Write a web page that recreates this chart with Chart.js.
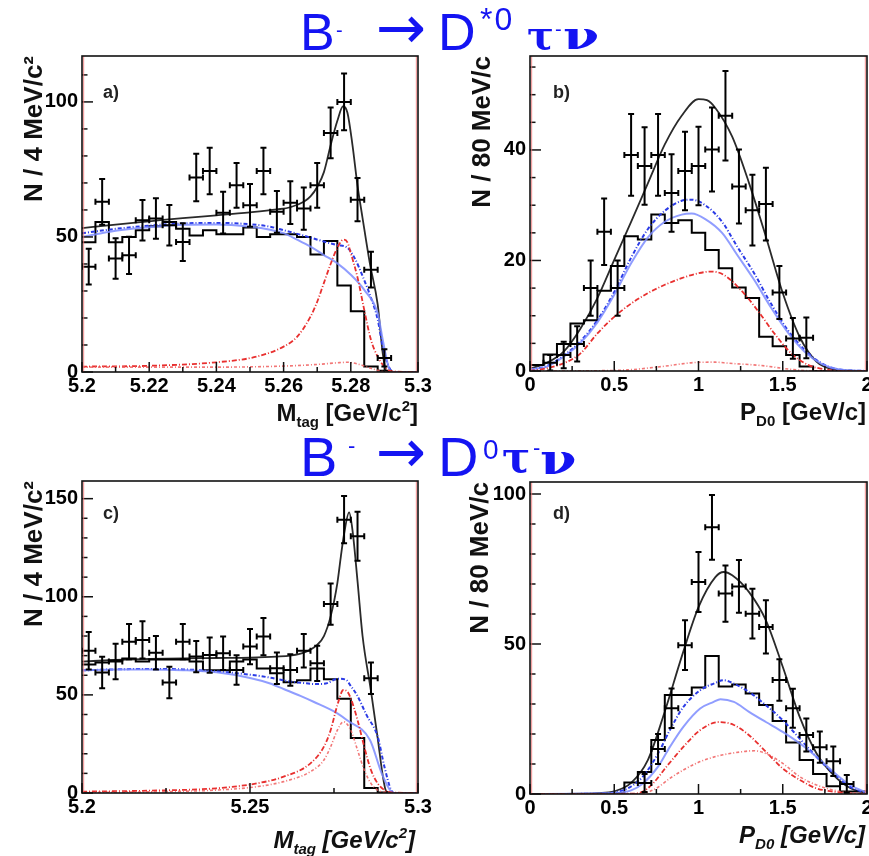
<!DOCTYPE html>
<html><head><meta charset="utf-8">
<script src="https://cdn.jsdelivr.net/npm/chart.js@4.4.1/dist/chart.umd.min.js"></script>
<style>
body{margin:0;background:#fff;width:869px;height:856px;overflow:hidden;position:relative;font-family:'Liberation Sans',Arial,sans-serif}
canvas{position:absolute}
.t{position:absolute;white-space:nowrap;color:#1414f2;line-height:1;font-family:'Liberation Sans','DejaVu Sans',sans-serif;z-index:5}
.g{font-family:'DejaVu Serif',serif;font-weight:bold;transform-origin:left bottom}
.ar{font-family:'DejaVu Sans',sans-serif}
.xl{position:absolute;white-space:nowrap;font-weight:bold;color:#111;font-size:24px;line-height:24px;z-index:4;text-align:right}
.xl sub,.xl sup{font-size:15px;line-height:0}
.xl sub{vertical-align:-6px}
.xl sup{vertical-align:10px}
.pl{position:absolute;font-weight:bold;color:#222;font-size:18px;line-height:18px;z-index:4}
</style></head><body>
<canvas id="pa" width="434" height="430" style="left:0;top:0"></canvas>
<canvas id="pb" width="435" height="430" style="left:434px;top:0"></canvas>
<canvas id="pc" width="434" height="426" style="left:0;top:430px"></canvas>
<canvas id="pd" width="435" height="426" style="left:434px;top:430px"></canvas>

<span class="t" style="left:300px;top:6px;font-size:52px">B</span>
<span class="t" style="left:336px;top:20px;font-size:20px">-</span>
<span class="t ar" style="left:376px;top:-3px;font-size:60px">→</span>
<span class="t" style="left:438px;top:6px;font-size:52px">D</span>
<span class="t" style="left:480px;top:3px;font-size:32px;letter-spacing:2px">*0</span>
<span class="t g" style="left:527px;top:15px;font-size:40px">τ</span>
<span class="t" style="left:555px;top:19px;font-size:20px">-</span>
<span class="t g" style="left:563px;top:15px;font-size:40px;transform:scaleX(1.3)">ν</span>

<span class="t" style="left:300px;top:429px;font-size:56px">B</span>
<span class="t" style="left:348px;top:435px;font-size:22px">-</span>
<span class="t ar" style="left:376px;top:421px;font-size:60px">→</span>
<span class="t" style="left:438px;top:429px;font-size:56px">D</span>
<span class="t" style="left:483px;top:436px;font-size:28px">0</span>
<span class="t g" style="left:502px;top:437px;font-size:42px">τ</span>
<span class="t" style="left:533px;top:437px;font-size:22px">-</span>
<span class="t g" style="left:540px;top:439px;font-size:42px;transform:scaleX(1.25)">ν</span>

<div class="xl" style="right:451px;top:401px">M<sub>tag</sub> [GeV/c<sup>2</sup>]</div>
<div class="xl" style="right:3px;top:400px">P<sub>D0</sub> [GeV/c]</div>
<div class="xl" style="right:454px;top:828px;font-style:italic">M<sub>tag</sub> [GeV/c<sup>2</sup>]</div>
<div class="xl" style="right:4px;top:823px;font-style:italic">P<sub>D0</sub> [GeV/c]</div>

<div class="pl" style="left:103px;top:83px">a)</div>
<div class="pl" style="left:553px;top:83px">b)</div>
<div class="pl" style="left:103px;top:504px">c)</div>
<div class="pl" style="left:553px;top:504px">d)</div>

<script>
// ---------- bin edges ----------
const massEdges = [5.200,5.204,5.208,5.212,5.216,5.220,5.224,5.228,5.232,5.236,5.240,5.244,5.248,5.252,5.256,5.260,5.264,5.268,5.272,5.276,5.280,5.284,5.288,5.292,5.296,5.300];
const momEdges = [0.00,0.08,0.16,0.24,0.32,0.40,0.48,0.56,0.64,0.72,0.80,0.88,0.96,1.04,1.12,1.20,1.28,1.36,1.44,1.52,1.60,1.68,1.76,1.84,1.92,2.00];

// ---------- panel a : Mtag, D*0 tau nu ----------
const aPtX = [5.202,5.206,5.210,5.214,5.218,5.222,5.226,5.230,5.234,5.238,5.242,5.246,5.250,5.254,5.258,5.262,5.266,5.270,5.274,5.278,5.282,5.286,5.290];
const aPtY = [39,63,42,43.2,56.2,56.8,54.3,48.1,72,74.4,59,69.1,61.7,74.4,59.3,62.7,60.5,69.1,88.5,100,63.8,37.9,5.2];
const aPtErr = [6.6,8.5,7.5,6.9,7.5,7.5,7.5,7,8.8,8.6,7.7,8.3,7.9,8.6,7.7,7.9,7.8,8.3,9.4,10.5,8,6.6,3.2];
const aHist = [48,48,55.5,48,50,52.5,54,55.5,53,50.5,52.5,51,51,53.5,50,51,51,50,43.5,48.5,32,22.5,2,0.5,0];
const aTotX = [5.200,5.210,5.220,5.230,5.240,5.250,5.258,5.262,5.266,5.268,5.270,5.272,5.274,5.276,5.2777,5.279,5.2805,5.282,5.2835,5.2857,5.288,5.2895,5.2905,5.292,5.300];
const aTotY = [53.3,54.6,55.8,57.0,58.0,59.1,60.2,61.0,63.0,65.0,68.5,74.0,84.0,93.0,98.4,96.0,84.0,69.0,57.0,40.0,25.0,7.0,0.5,0,0];
const aDashX = [5.200,5.210,5.220,5.230,5.240,5.250,5.256,5.260,5.266,5.272,5.276,5.279,5.281,5.284,5.286,5.288,5.2895,5.2915,5.293,5.300];
const aDashY = [51.4,53.0,54.2,55.0,55.2,54.7,53.8,52.5,50.5,48.3,47.0,46.0,42.5,34.0,27.5,19.5,9.5,1.5,0,0];
const aSolX = [5.200,5.210,5.220,5.230,5.240,5.250,5.256,5.260,5.264,5.268,5.272,5.276,5.280,5.284,5.288,5.2895,5.291,5.292,5.300];
const aSolY = [50.0,52.3,53.6,54.5,54.6,53.8,52.7,51.4,49.0,46.4,43.3,40.2,36.0,30.4,21.7,12.0,3,0,0];
const aSigX = [5.200,5.220,5.240,5.252,5.260,5.264,5.268,5.270,5.272,5.274,5.276,5.2778,5.279,5.280,5.282,5.284,5.286,5.288,5.290,5.292,5.300];
const aSigY = [2.0,2.3,3.6,5.7,9.4,13.0,20.5,26,33,40,46,49,48,44,35,23,11.9,5.7,2.0,0.3,0];
const aSig2X = [5.200,5.240,5.260,5.270,5.276,5.279,5.282,5.285,5.288,5.291,5.300];
const aSig2Y = [1.8,1.8,2.2,2.8,3.4,3.6,3.0,1.8,0.6,0,0];

// ---------- panel b : pD0, D*0 tau nu ----------
const bPtX = [0.12,0.20,0.28,0.36,0.44,0.52,0.60,0.68,0.76,0.84,0.92,1.00,1.08,1.16,1.24,1.32,1.40,1.48,1.56,1.64];
const bPtY = [1.5,2.9,4.9,15,25.2,15,39.1,37.1,39.1,32.2,36.2,37.1,40.1,46.2,33.4,29.1,30.2,14.2,5.9,6];
const bPtErr = [1.4,2.4,3.2,5,6,5,7.4,7,7.4,7,7.1,7.1,7.6,8.1,6.7,6.4,6.6,4.8,3.7,3.7];
const bHist = [0.3,1.1,3.0,4.9,8.6,9.2,14.5,19.0,24.4,23.8,28.3,26.8,27.3,25.0,21.9,18.6,15.1,13.2,6.2,4.5,2.9,0.8,0,0,0];
const bTotX = [0,0.1,0.2,0.3,0.4,0.5,0.6,0.7,0.8,0.9,1.0,1.05,1.1,1.2,1.3,1.4,1.5,1.6,1.7,1.8,1.9,2.0];
const bTotY = [0.4,1.5,3.5,7.7,13.2,20.1,27,34,41,46.2,49.2,49,47.6,42.4,34,24.3,14.1,6.2,1.7,0.3,0.05,0];
const bDashX = [0,0.1,0.2,0.3,0.4,0.5,0.6,0.7,0.8,0.9,0.96,1.04,1.14,1.23,1.33,1.43,1.53,1.63,1.73,1.83,2.0];
const bDashY = [0.3,0.9,2.8,5.4,9.2,14.3,20.5,25.7,29.0,30.8,31.0,30.0,27.0,22.5,17.7,12.2,7.4,3.8,1.4,0.3,0];
const bSolX = [0,0.1,0.2,0.3,0.4,0.5,0.6,0.7,0.8,0.9,0.96,1.04,1.14,1.23,1.33,1.43,1.53,1.63,1.73,1.83,2.0];
const bSolY = [0.3,0.8,2.6,5.1,8.8,13.8,19.5,24.2,27.0,28.3,28.5,27.5,25.0,21.0,16.5,11.5,7.0,3.5,1.3,0.3,0];
const bSigX = [0,0.1,0.2,0.3,0.4,0.5,0.6,0.7,0.8,0.9,1.0,1.08,1.15,1.25,1.35,1.45,1.55,1.65,1.75,1.85,2.0];
const bSigY = [0,0.5,1.4,3.2,6.8,9.8,12.2,14.1,15.6,16.8,17.7,18.0,17.4,14.7,11.0,6.8,3.2,1.1,0.3,0,0];
const bSig2X = [0,0.4,0.58,0.78,1.0,1.1,1.18,1.37,1.55,1.7,2.0];
const bSig2Y = [0,0.05,0.2,0.8,1.57,1.6,1.4,1.0,0.3,0,0];

// ---------- panel c : Mtag, D0 tau nu ----------
const cPtX = [5.202,5.206,5.210,5.214,5.218,5.222,5.226,5.230,5.234,5.238,5.242,5.246,5.250,5.254,5.258,5.262,5.266,5.270,5.274,5.278,5.282,5.286];
const cPtY = [72.5,61.4,67,77.1,78,71.5,56.3,77.1,69.5,70.3,71.2,62.7,74.6,79.7,63.6,62.7,72.5,66.1,96.3,139.3,130.8,58.5];
const cPtErr = [9.5,8,9,9,9.5,8.5,8,9,8,9,8.5,7.5,9,9.5,8,8,8.5,9,10.5,12,12.5,8];
const cHist = [66,65.5,66.5,67.5,68.5,67,68,68,68,67,62.5,62.5,67,68,63.5,61,56.5,57.5,63.5,58,48,28,2.5,0.3,0];
const cTotX = [5.200,5.210,5.220,5.230,5.240,5.250,5.258,5.262,5.266,5.270,5.272,5.274,5.276,5.277,5.278,5.2795,5.2805,5.282,5.2835,5.286,5.288,5.2895,5.2905,5.292,5.300];
const cTotY = [67,67.8,68.3,68.6,68.8,69.0,69.5,70,71.5,75.5,80,90,107,120,132,143,134,108,80,52,28,9,1,0,0];
const cDashX = [5.200,5.210,5.220,5.230,5.240,5.250,5.256,5.262,5.266,5.270,5.273,5.276,5.2785,5.280,5.2818,5.2847,5.288,5.290,5.292,5.293,5.300];
const cDashY = [62.5,63.0,63.2,63.0,62.0,60.3,58.8,56.8,56.0,55.5,56.0,58.2,57.8,54.5,50.0,39.7,28.7,13.4,1.5,0,0];
const cSolX = [5.200,5.210,5.220,5.230,5.240,5.250,5.256,5.260,5.265,5.2689,5.276,5.2788,5.2857,5.2892,5.292,5.293,5.300];
const cSolY = [62.5,63.0,63.0,62.6,61.5,58.6,55.8,53.0,49.5,46.5,40.6,37.2,27,10,0.7,0,0];
const cSigX = [5.200,5.220,5.240,5.252,5.260,5.268,5.272,5.274,5.276,5.2778,5.279,5.280,5.282,5.284,5.286,5.288,5.290,5.292,5.300];
const cSigY = [0.7,1.2,2.4,4.9,8.3,15.1,23.6,32,44.8,52.5,51.6,48.2,37.2,23.6,11.7,4.9,1.5,0.3,0];
const cSig2X = [5.200,5.240,5.252,5.260,5.268,5.272,5.274,5.276,5.2778,5.280,5.282,5.284,5.286,5.288,5.290,5.300];
const cSig2Y = [0.2,1.5,3.2,5.8,10.9,16.8,23.6,32,36.3,32,21.9,11.7,4.9,1.5,0.3,0];

// ---------- panel d : pD0, D0 tau nu ----------
const dPtX = [0.68,0.76,0.84,0.92,1.00,1.08,1.16,1.24,1.32,1.40,1.48,1.56,1.64,1.72,1.80,1.88];
const dPtY = [3.7,15,28.6,49.6,70.7,88.9,66.8,69.2,60.1,55.7,38,28.6,19.7,15.6,10.9,3.3];
const dPtErr = [3,5,6.6,8.3,10,10.8,9.4,8.8,8.3,8.9,6.9,6.5,5.5,5.2,4.9,3];
const dHist = [0,0,0,0,0,0,0,0.3,3.8,7.3,18,33,33,35.5,46,35.8,36.5,33.5,29.7,24.3,17.2,11.3,6.7,2.6,0.8];
const dTotX = [0,0.3,0.4,0.5,0.6,0.7,0.8,0.9,1.0,1.1,1.15,1.2,1.3,1.4,1.5,1.6,1.7,1.8,1.9,2.0];
const dTotY = [0,0.1,0.3,0.9,3.7,11.4,27.5,45.7,62.3,72.3,74,72.9,67.3,57.9,42.4,25.8,13.6,6.4,2,0.3];
const dDashX = [0,0.4,0.5,0.55,0.6,0.67,0.76,0.83,0.91,1.01,1.09,1.15,1.21,1.3,1.4,1.5,1.6,1.7,1.8,1.9,2.0];
const dDashY = [0,0.1,0.5,1.2,2.5,5.8,13.5,21.3,29,34.6,36.8,37.9,36.8,34,29.6,24.6,18.5,12.4,6.9,2.4,0.2];
const dSolX = [0,0.5,0.6,0.67,0.76,0.83,0.91,1.01,1.09,1.13,1.21,1.3,1.4,1.5,1.6,1.7,1.8,1.9,2.0];
const dSolY = [0,0.3,1.2,3.5,9.1,15.7,22.4,28.5,30.7,31.6,30.7,27.4,24,20.7,16.9,12.4,7.4,3,0.4];
const dSigX = [0,0.6,0.67,0.73,0.81,0.91,1.01,1.12,1.21,1.3,1.4,1.5,1.6,1.7,1.8,1.9,2.0];
const dSigY = [0,0.1,0.8,3.5,9.1,15.7,21.3,24,23,19.6,14.1,8.5,4.7,1.9,0.8,0.2,0];
const dSig2X = [0,0.62,0.67,0.75,0.83,0.91,1.01,1.11,1.21,1.33,1.4,1.5,1.6,1.7,1.8,1.9,2.0];
const dSig2Y = [0,0.05,0.2,1.9,5.2,8,10.8,12.6,13.7,14.4,13.5,10.2,5.8,3,1.3,0.4,0];

// ---------- helpers ----------
const FONT = "'Liberation Sans', Arial, sans-serif";
const xy = (xs, ys) => xs.map((x, i) => ({x, y: ys[i]}));
const histPts = (edges, vals) => vals.map((v, i) => ({x: edges[i], y: v})).concat([{x: edges[edges.length - 1], y: vals[vals.length - 1]}]);
const near = (v, step) => Math.abs(v / step - Math.round(v / step)) < 1e-6;

const rootStyle = {
  id: 'rootStyle',
  afterDatasetsDraw(chart) {
    const {ctx, chartArea: ca, scales: {y}} = chart;
    ctx.save();
    ctx.beginPath(); ctx.rect(ca.left, ca.top, ca.right - ca.left, ca.bottom - ca.top); ctx.clip();
    ctx.strokeStyle = '#000'; ctx.lineWidth = 2;
    chart.data.datasets.forEach((ds, i) => {
      if (!ds.errY) return;
      const meta = chart.getDatasetMeta(i);
      const xs = chart.scales.x;
      meta.data.forEach((el, j) => {
        const pt = ds.data[j];
        const px = el.x, py = el.y;
        const x0 = xs.getPixelForValue(pt.x - ds.halfX), x1 = xs.getPixelForValue(pt.x + ds.halfX);
        const y0 = y.getPixelForValue(pt.y - ds.errY[j]), y1 = y.getPixelForValue(pt.y + ds.errY[j]);
        ctx.beginPath();
        ctx.moveTo(x0, py); ctx.lineTo(x1, py);
        ctx.moveTo(px, y0); ctx.lineTo(px, y1);
        ctx.moveTo(px - 3, y0); ctx.lineTo(px + 3, y0);
        ctx.moveTo(px - 3, y1); ctx.lineTo(px + 3, y1);
        ctx.moveTo(x0, py - 3); ctx.lineTo(x0, py + 3);
        ctx.moveTo(x1, py - 3); ctx.lineTo(x1, py + 3);
        ctx.stroke();
      });
    });
    ctx.restore();
  },
  afterDraw(chart) {
    const {ctx, chartArea: ca, scales: {x, y}} = chart;
    ctx.save();
    ctx.strokeStyle = '#111'; ctx.lineWidth = 1.5;
    y.ticks.forEach(t => {
      const p = y.getPixelForValue(t.value);
      const len = t.label !== '' ? 11 : 5.5;
      ctx.beginPath(); ctx.moveTo(ca.left, p); ctx.lineTo(ca.left + len, p); ctx.stroke();
    });
    x.ticks.forEach(t => {
      const p = x.getPixelForValue(t.value);
      const len = t.label !== '' ? 10 : 5;
      ctx.beginPath(); ctx.moveTo(p, ca.bottom); ctx.lineTo(p, ca.bottom - len); ctx.stroke();
    });
    ctx.strokeStyle = 'rgba(235,120,120,0.7)'; ctx.lineWidth = 1.2;
    ctx.beginPath();
    ctx.moveTo(ca.left + 1.6, ca.top); ctx.lineTo(ca.left + 1.6, ca.bottom);
    ctx.moveTo(ca.right - 1.6, ca.top); ctx.lineTo(ca.right - 1.6, ca.bottom);
    ctx.stroke();
    ctx.strokeStyle = '#111'; ctx.lineWidth = 1.6;
    ctx.strokeRect(ca.left, ca.top, ca.right - ca.left, ca.bottom - ca.top);
    ctx.restore();
  }
};

function curve(xs, ys, color, width, dash) {
  return {data: xy(xs, ys), borderColor: color, borderWidth: width, borderDash: dash || [], pointRadius: 0, fill: false, cubicInterpolationMode: 'monotone'};
}

function panel(id, p) {
  const cv = document.getElementById(id);
  const W = cv.width, H = cv.height, A = p.area;
  new Chart(cv, {
    type: 'line',
    data: {datasets: [
      curve(p.sig2[0], p.sig2[1], 'rgba(240,95,95,0.85)', 1.6, [3, 2, 1, 2]),
      curve(p.sig[0], p.sig[1], '#e8302f', 1.8, [5, 2, 1, 2]),
      curve(p.sol[0], p.sol[1], 'rgba(125,140,255,0.85)', 2, []),
      curve(p.dash[0], p.dash[1], '#2b3be6', 2, [4, 2, 1, 2]),
      {data: histPts(p.edges, p.hist), borderColor: '#000', borderWidth: 2, stepped: 'after', pointRadius: 0, fill: false},
      curve(p.tot[0], p.tot[1], '#2a2a2a', 1.8, []),
      {data: xy(p.ptX, p.ptY), errY: p.ptErr, halfX: p.half, showLine: false, pointRadius: 0, borderColor: '#000'}
    ]},
    options: {
      responsive: false, animation: false, events: [],
      layout: {padding: {left: 0, top: A.top, right: W - A.right, bottom: 0}},
      plugins: {legend: {display: false}, tooltip: {enabled: false}},
      scales: {
        x: {
          type: 'linear', min: p.xMin, max: p.xMax,
          afterFit(s) { s.height = H - A.bottom; s.paddingLeft = 0; s.paddingRight = 0; },
          grid: {display: false, drawTicks: false}, border: {display: false},
          ticks: {stepSize: p.xStep, autoSkip: false, maxRotation: 0, minRotation: 0, includeBounds: false, padding: 2, color: '#000',
            font: {family: FONT, size: 20, weight: 'bold'},
            callback: v => near(v, p.xLab) ? String(+v.toFixed(3)) : ''}
        },
        y: {
          type: 'linear', min: 0, max: p.yMax,
          afterFit(s) { s.width = A.left; s.paddingTop = 0; s.paddingBottom = 0; },
          grid: {display: false, drawTicks: false}, border: {display: false},
          ticks: {stepSize: p.yStep, autoSkip: false, includeBounds: false, padding: 4, color: '#000',
            font: {family: FONT, size: 20, weight: 'bold'},
            callback: v => near(v, p.yLab) ? String(v) : ''},
          title: {display: true, text: p.yTitle, align: 'end', color: '#111', padding: {top: p.yTitlePad, bottom: 0},
            font: {family: FONT, size: 26, weight: 'bold'}}
        }
      }
    },
    plugins: [rootStyle]
  });
}

panel('pa', {area: {left: 82, top: 56, right: 418, bottom: 372}, xMin: 5.2, xMax: 5.3, xStep: 0.01, xLab: 0.02,
  yMax: 117, yStep: 10, yLab: 50, yTitle: 'N / 4 MeV/c²', yTitlePad: 19, edges: massEdges, hist: aHist, half: 0.002,
  ptX: aPtX, ptY: aPtY, ptErr: aPtErr, tot: [aTotX, aTotY], dash: [aDashX, aDashY], sol: [aSolX, aSolY], sig: [aSigX, aSigY], sig2: [aSig2X, aSig2Y]});
panel('pb', {area: {left: 96, top: 56, right: 433, bottom: 371}, xMin: 0, xMax: 2, xStep: 0.25, xLab: 0.5,
  yMax: 57, yStep: 5, yLab: 20, yTitle: 'N / 80 MeV/c', yTitlePad: 33, edges: momEdges, hist: bHist, half: 0.04,
  ptX: bPtX, ptY: bPtY, ptErr: bPtErr, tot: [bTotX, bTotY], dash: [bDashX, bDashY], sol: [bSolX, bSolY], sig: [bSigX, bSigY], sig2: [bSig2X, bSig2Y]});
panel('pc', {area: {left: 82, top: 51, right: 418, bottom: 363}, xMin: 5.2, xMax: 5.3, xStep: 0.025, xLab: 0.05,
  yMax: 159, yStep: 10, yLab: 50, yTitle: 'N / 4 MeV/c²', yTitlePad: 19, edges: massEdges, hist: cHist, half: 0.002,
  ptX: cPtX, ptY: cPtY, ptErr: cPtErr, tot: [cTotX, cTotY], dash: [cDashX, cDashY], sol: [cSolX, cSolY], sig: [cSigX, cSigY], sig2: [cSig2X, cSig2Y]});
panel('pd', {area: {left: 96, top: 52, right: 433, bottom: 364}, xMin: 0, xMax: 2, xStep: 0.25, xLab: 0.5,
  yMax: 104, yStep: 10, yLab: 50, yTitle: 'N / 80 MeV/c', yTitlePad: 31, edges: momEdges, hist: dHist, half: 0.04,
  ptX: dPtX, ptY: dPtY, ptErr: dPtErr, tot: [dTotX, dTotY], dash: [dDashX, dDashY], sol: [dSolX, dSolY], sig: [dSigX, dSigY], sig2: [dSig2X, dSig2Y]});
</script>
</body></html>
